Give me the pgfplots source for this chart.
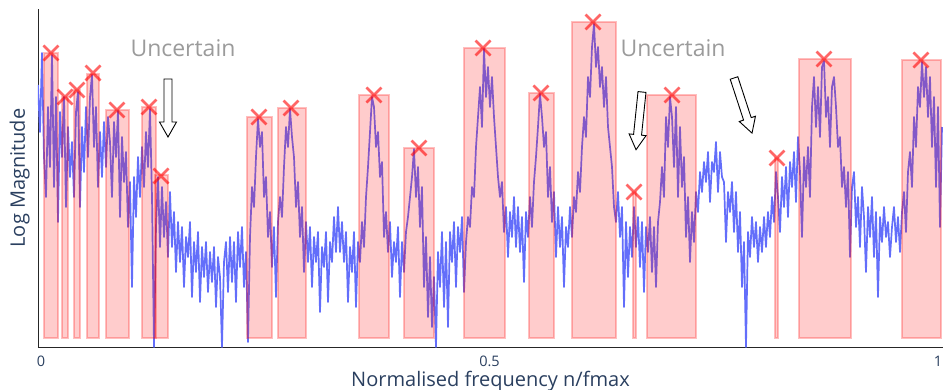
\documentclass[border=0pt]{standalone}
\usepackage{fontspec}
\setmainfont{Open Sans}
\usepackage{pgfplots}
\usepackage{pgfplotstable}
\pgfplotsset{compat=1.18}
\definecolor{lineblue}{RGB}{99,110,250}
\definecolor{axtext}{RGB}{42,63,95}
\definecolor{uncgray}{RGB}{155,155,155}

% n = frequency bin, fmax = 897 bins; h = log magnitude (arbitrary units)
\pgfplotstableread{
n h
-3 262
-1 215
1 294
3 190
5 150
7 240
9 180
11 292
13 160
15 250
17 125
19 235
21 190
23 250
25 140
27 220
29 170
31 205
33 150
35 235
37 255
39 140
41 220
43 175
45 240
47 190
49 250
51 272
53 200
55 240
57 160
59 215
61 170
63 225
65 180
67 230
69 205
71 150
73 225
75 190
77 236
79 130
81 210
83 165
85 195
87 120
89 165
91 60
93 170
95 130
97 190
99 150
101 200
103 160
105 215
107 180
109 238
111 150
113 0
115 120
117 170
119 100
121 160
123 110
125 145
127 90
129 155
131 100
133 135
135 75
137 125
139 85
141 120
143 60
145 110
147 90
149 125
151 50
153 105
155 75
157 115
159 45
161 100
163 70
165 105
167 55
169 95
171 65
173 100
175 40
177 90
179 70
181 0
183 85
185 105
187 55
189 110
191 65
193 105
195 45
197 115
199 80
201 120
203 60
205 95
207 5
209 110
211 160
213 140
215 190
217 228
219 200
221 215
223 150
225 170
227 110
229 135
231 80
233 120
235 50
237 125
239 150
241 130
243 180
245 220
247 200
249 238
251 210
253 190
255 140
257 165
259 110
261 140
263 75
265 125
267 85
269 120
271 60
273 110
275 85
277 115
279 35
281 100
283 80
285 115
287 45
289 105
291 85
293 130
295 95
297 140
299 95
301 125
303 85
305 115
307 45
309 100
311 75
313 115
315 40
317 105
319 85
321 125
323 100
325 150
327 180
329 215
331 250
333 240
335 200
337 215
339 170
341 185
343 110
345 135
347 95
349 125
351 70
353 105
355 85
357 120
359 50
361 105
363 75
365 115
367 130
369 150
371 170
373 198
375 150
377 180
379 120
381 160
383 60
385 110
387 30
389 90
391 20
393 70
395 0
397 95
399 60
401 115
403 40
405 105
407 20
409 115
411 85
413 125
415 60
417 120
419 95
421 130
423 55
425 105
427 130
429 120
431 160
433 150
435 200
437 230
439 260
441 220
443 298
445 250
447 280
449 240
451 270
453 230
455 200
457 170
459 150
461 165
463 115
465 140
467 90
469 135
471 110
473 150
475 100
477 140
479 95
481 130
483 65
485 135
487 110
489 150
491 120
493 165
495 190
497 220
499 253
501 230
503 200
505 215
507 150
509 180
511 125
513 155
515 90
517 140
519 100
521 130
523 60
525 120
527 100
529 140
531 110
533 150
535 135
537 175
539 155
541 200
543 230
545 210
547 270
549 250
551 300
553 323
555 280
557 300
559 260
561 280
563 240
565 270
567 220
569 200
571 180
573 140
575 125
577 155
579 110
581 140
583 40
585 125
587 70
589 120
591 90
593 140
595 100
597 130
599 80
601 125
603 55
605 120
607 95
609 130
611 75
613 120
615 60
617 125
619 145
621 180
623 150
625 230
627 200
629 250
631 230
633 180
635 240
637 150
639 220
641 160
643 190
645 110
647 150
649 85
651 135
653 105
655 155
657 135
659 175
661 155
663 185
665 165
667 195
669 145
671 185
673 175
675 205
677 155
679 195
681 170
683 165
685 105
687 155
689 135
691 165
693 115
695 155
697 95
699 135
701 60
703 105
705 0
707 115
709 90
711 130
713 100
715 125
717 85
719 120
721 95
723 130
725 100
727 135
729 110
731 150
733 125
735 175
737 150
739 115
741 170
743 140
745 180
747 130
749 185
751 160
753 195
755 145
757 210
759 175
761 110
763 190
765 160
767 200
769 150
771 240
773 270
775 220
777 260
779 210
781 280
783 286
785 230
787 250
789 200
791 260
793 270
795 240
797 200
799 210
801 160
803 180
805 140
807 175
809 90
811 160
813 175
815 120
817 150
819 100
821 160
823 130
825 75
827 140
829 110
831 150
833 90
835 135
837 50
839 130
841 105
843 140
845 110
847 125
849 90
851 120
853 140
855 105
857 130
859 95
861 135
863 155
865 115
867 175
869 195
871 160
873 230
875 200
877 260
879 240
881 285
883 250
885 280
887 230
889 270
891 200
893 250
895 160
897 240
899 120
901 220
}\spectrum

\newcommand{\band}[3]{\addplot[draw=red, draw opacity=0.25, line width=1.1pt, fill=red, fill opacity=0.2] coordinates {(#1,9) (#1,#3) (#2,#3) (#2,9)} -- cycle;}
\newcommand{\blockarrow}[2]{\draw[black, line width=0.9pt, fill=white, line join=miter, shift={(#1)}, rotate=#2] (0,-4pt) -- (43pt,-4pt) -- (43pt,-8.5pt) -- (58pt,0) -- (43pt,8.5pt) -- (43pt,4pt) -- (0,4pt) -- cycle;}

\begin{document}
\begin{tikzpicture}
\useasboundingbox (-38pt,-42pt) rectangle (905pt,347pt);
\begin{axis}[
  at={(0,0)}, anchor=south west,
  scale only axis, width=905pt, height=338pt,
  xmin=-0.003344, xmax=1.005574, ymin=0, ymax=338,
  axis lines=left,
  axis line style={-, black!85, line width=0.9pt},
  xtick={0,0.5,1}, xticklabels={0,0.5,1},
  ytick=\empty,
  major tick length=0pt,
  /pgf/number format/assume math mode=true,
  xticklabel style={font=\fontsize{14.5}{16}\selectfont, text=axtext, anchor=base, yshift=-19.5pt},
  xlabel={Normalised frequency n/fmax},
  ylabel={Log Magnitude},
  xlabel style={font=\fontsize{20}{22}\selectfont, text=axtext, at={(axis description cs:0.5,-0.1154)}, anchor=base},
  ylabel style={font=\fontsize{20}{22}\selectfont, text=axtext, at={(axis description cs:-0.0144,0.5)}, anchor=base},
]
\addplot[lineblue, line width=1.7pt, line join=round] table[x expr=\thisrow{n}/897, y=h] {\spectrum};

\band{0.0033}{0.0190}{294}
\band{0.0234}{0.0301}{250}
\band{0.0368}{0.0435}{257}
\band{0.0513}{0.0647}{273}
\band{0.0725}{0.0981}{237}
\band{0.1126}{0.1282}{240}
\band{0.1271}{0.1416}{172}
\band{0.2297}{0.2575}{230}
\band{0.2642}{0.2954}{239}
\band{0.3545}{0.3880}{252}
\band{0.4047}{0.4381}{199}
\band{0.4716}{0.5173}{299}
\band{0.5440}{0.5719}{254}
\band{0.5920}{0.6410}{325}
\band{0.6600}{0.6633}{155}
\band{0.6756}{0.7302}{252}
\band{0.8183}{0.8216}{189}
\band{0.8450}{0.9030}{288}
\band{0.9599}{1.0033}{287}

\addplot[only marks, mark=x, mark size=10.6pt, red, opacity=0.6, line width=2.6pt] coordinates {
(0.0111,294) (0.0268,250) (0.0401,257) (0.0580,274) (0.0847,237) (0.1204,240)
(0.1338,171) (0.2430,230) (0.2787,239) (0.3712,252) (0.4214,199) (0.4928,299)
(0.5574,254) (0.6154,325) (0.6611,155) (0.7035,252) (0.8205,189) (0.8729,288)
(0.9810,287)};

\node[font=\fontsize{23}{25}\selectfont, text=uncgray] at (axis cs:0.1583,299) {Uncertain};
\node[font=\fontsize{23}{25}\selectfont, text=uncgray] at (axis cs:0.7046,299) {Uncertain};

\coordinate (A1) at (axis cs:0.1416,268);
\coordinate (A2) at (axis cs:0.6700,255);
\coordinate (A3) at (axis cs:0.7726,269);
\end{axis}
\blockarrow{A1}{-90}
\blockarrow{A2}{-95.9}
\blockarrow{A3}{-71.9}
\end{tikzpicture}
\end{document}
